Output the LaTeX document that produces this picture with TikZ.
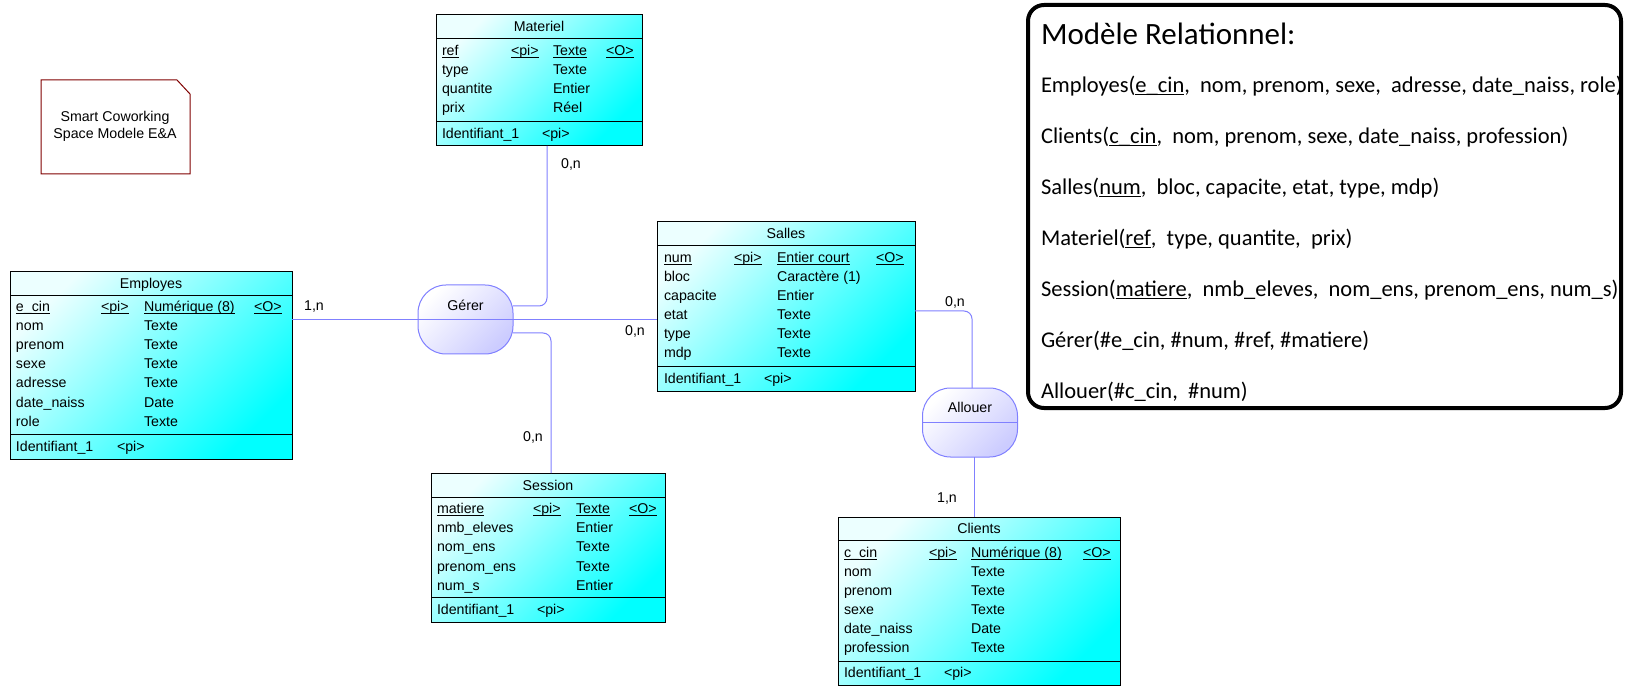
\documentclass[tikz,border=0pt]{standalone}
\usepackage{fontspec}
\setmainfont{Liberation Sans}
\newfontfamily\calib{Carlito}
\usetikzlibrary{calc}
\definecolor{conncol}{RGB}{128,128,255}
\definecolor{cyanlight}{RGB}{236,255,255}
\definecolor{cyanfull}{RGB}{0,255,255}
\definecolor{relfill}{RGB}{204,204,255}
\definecolor{notered}{RGB}{128,0,0}
\newcommand\ul[1]{\setbox0\hbox{#1}\rlap{\rule[-2.4pt]{\wd0}{0.9pt}}\box0}
\newcommand\ulb[1]{\setbox0\hbox{#1}\rlap{\rule[-3.2pt]{\wd0}{1.2pt}}\box0}
\tikzset{
  entity/.style={draw=black, line width=1pt, top color=cyanlight, bottom color=cyanfull, shading angle=45, inner sep=0pt, outer sep=0pt},
  rel/.style={draw=conncol, line width=1pt, rounded corners=28pt, top color=white, bottom color=relfill, shading angle=45, minimum width=95pt, minimum height=69pt, inner sep=0pt, outer sep=0pt},
  conn/.style={draw=conncol, line width=1pt},
  sepline/.style={draw=black, line width=1pt},
  txt/.style={inner sep=0pt, outer sep=0pt, font=\fontsize{14.2}{16}\selectfont, anchor=base west, yshift=-5pt},
  ttl/.style={txt, anchor=base},
  card/.style={txt, anchor=base},
  reltxt/.style={inner sep=0pt, outer sep=0pt, font=\calib\fontsize{22.5}{26}\selectfont, anchor=base west, yshift=-7.2pt},
  reltitle/.style={inner sep=0pt, outer sep=0pt, font=\calib\fontsize{31}{36}\selectfont, anchor=base west, yshift=-10pt},
}
\begin{document}
\begin{tikzpicture}[x=1pt,y=-1pt]
\useasboundingbox (0,0) rectangle (1627,692);
\fill[white] (0,0) rectangle (1627,692);

% ---------- note ----------
\draw[notered, line width=1pt] (41,80) -- (177,80) -- (190,94) -- (190,174) -- (41,174) -- cycle;
\node[inner sep=0pt, align=center, font=\fontsize{14.2}{17}\selectfont] (note) at (115,126) {Smart Coworking\\Space Modele E\&A};

% ---------- Materiel ----------
\node[entity, minimum width=206pt, minimum height=131pt] (mat) at (539,80.5) {};
\draw[sepline] (mat.west |- 0,39) -- (mat.east |- 0,39);
\draw[sepline] (mat.west |- 0,122) -- (mat.east |- 0,122);
\node[ttl] (mat-t) at (539,27) {Materiel};
\node[txt] (mat-a1) at (442,51) {\ul{ref}};
\node[txt] (mat-p1) at (511,51) {\ul{<pi>}};
\node[txt] (mat-d1) at (553,51) {\ul{Texte}};
\node[txt] (mat-o1) at (606,51) {\ul{<O>}};
\node[txt] (mat-a2) at (442,70) {type};
\node[txt] (mat-d2) at (553,70) {Texte};
\node[txt] (mat-a3) at (442,89) {quantite};
\node[txt] (mat-d3) at (553,89) {Entier};
\node[txt] (mat-a4) at (442,108) {prix};
\node[txt] (mat-d4) at (553,108) {Réel};
\node[txt] (mat-i) at (442,134) {Identifiant\_1};
\node[txt] (mat-ip) at (542,134) {<pi>};

% ---------- Employes ----------
\node[entity, minimum width=282pt, minimum height=187pt] (emp) at (151,365.5) {};
\draw[sepline] (emp.west |- 0,296) -- (emp.east |- 0,296);
\draw[sepline] (emp.west |- 0,434) -- (emp.east |- 0,434);
\node[ttl] (emp-t) at (151,284) {Employes};
\node[txt] (emp-a1) at (16,307) {\ul{e\_cin}};
\node[txt] (emp-p1) at (101,307) {\ul{<pi>}};
\node[txt] (emp-d1) at (144,307) {\ul{Numérique (8)}};
\node[txt] (emp-o1) at (254,307) {\ul{<O>}};
\node[txt] (emp-a2) at (16,326) {nom};
\node[txt] (emp-d2) at (144,326) {Texte};
\node[txt] (emp-a3) at (16,345) {prenom};
\node[txt] (emp-d3) at (144,345) {Texte};
\node[txt] (emp-a4) at (16,364) {sexe};
\node[txt] (emp-d4) at (144,364) {Texte};
\node[txt] (emp-a5) at (16,383) {adresse};
\node[txt] (emp-d5) at (144,383) {Texte};
\node[txt] (emp-a6) at (16,402) {date\_naiss};
\node[txt] (emp-d6) at (144,402) {Date};
\node[txt] (emp-a7) at (16,421) {role};
\node[txt] (emp-d7) at (144,421) {Texte};
\node[txt] (emp-i) at (16,446) {Identifiant\_1};
\node[txt] (emp-ip) at (117,446) {<pi>};

% ---------- Salles ----------
\node[entity, minimum width=258pt, minimum height=169pt] (sal) at (786,306.5) {};
\draw[sepline] (sal.west |- 0,246) -- (sal.east |- 0,246);
\draw[sepline] (sal.west |- 0,366) -- (sal.east |- 0,366);
\node[ttl] (sal-t) at (786,234) {Salles};
\node[txt] (sal-a1) at (664,258) {\ul{num}};
\node[txt] (sal-p1) at (734,258) {\ul{<pi>}};
\node[txt] (sal-d1) at (777,258) {\ul{Entier court}};
\node[txt] (sal-o1) at (876,258) {\ul{<O>}};
\node[txt] (sal-a2) at (664,277) {bloc};
\node[txt] (sal-d2) at (777,277) {Caractère (1)};
\node[txt] (sal-a3) at (664,296) {capacite};
\node[txt] (sal-d3) at (777,296) {Entier};
\node[txt] (sal-a4) at (664,315) {etat};
\node[txt] (sal-d4) at (777,315) {Texte};
\node[txt] (sal-a5) at (664,334) {type};
\node[txt] (sal-d5) at (777,334) {Texte};
\node[txt] (sal-a6) at (664,353) {mdp};
\node[txt] (sal-d6) at (777,353) {Texte};
\node[txt] (sal-i) at (664,378) {Identifiant\_1};
\node[txt] (sal-ip) at (764,378) {<pi>};

% ---------- Session ----------
\node[entity, minimum width=234pt, minimum height=149pt] (ses) at (548,547.5) {};
\draw[sepline] (ses.west |- 0,497) -- (ses.east |- 0,497);
\draw[sepline] (ses.west |- 0,597) -- (ses.east |- 0,597);
\node[ttl] (ses-t) at (548,485) {Session};
\node[txt] (ses-a1) at (437,508) {\ul{matiere}};
\node[txt] (ses-p1) at (533,508) {\ul{<pi>}};
\node[txt] (ses-d1) at (576,508) {\ul{Texte}};
\node[txt] (ses-o1) at (629,508) {\ul{<O>}};
\node[txt] (ses-a2) at (437,527) {nmb\_eleves};
\node[txt] (ses-d2) at (576,527) {Entier};
\node[txt] (ses-a3) at (437,546) {nom\_ens};
\node[txt] (ses-d3) at (576,546) {Texte};
\node[txt] (ses-a4) at (437,566) {prenom\_ens};
\node[txt] (ses-d4) at (576,566) {Texte};
\node[txt] (ses-a5) at (437,585) {num\_s};
\node[txt] (ses-d5) at (576,585) {Entier};
\node[txt] (ses-i) at (437,609) {Identifiant\_1};
\node[txt] (ses-ip) at (537,609) {<pi>};

% ---------- Clients ----------
\node[entity, minimum width=282pt, minimum height=168pt] (cli) at (979,601) {};
\draw[sepline] (cli.west |- 0,540) -- (cli.east |- 0,540);
\draw[sepline] (cli.west |- 0,661) -- (cli.east |- 0,661);
\node[ttl] (cli-t) at (979,528.5) {Clients};
\node[txt] (cli-a1) at (844,552) {\ul{c\_cin}};
\node[txt] (cli-p1) at (929,552) {\ul{<pi>}};
\node[txt] (cli-d1) at (971,552) {\ul{Numérique (8)}};
\node[txt] (cli-o1) at (1083,552) {\ul{<O>}};
\node[txt] (cli-a2) at (844,571) {nom};
\node[txt] (cli-d2) at (971,571) {Texte};
\node[txt] (cli-a3) at (844,590) {prenom};
\node[txt] (cli-d3) at (971,590) {Texte};
\node[txt] (cli-a4) at (844,609) {sexe};
\node[txt] (cli-d4) at (971,609) {Texte};
\node[txt] (cli-a5) at (844,628) {date\_naiss};
\node[txt] (cli-d5) at (971,628) {Date};
\node[txt] (cli-a6) at (844,647) {profession};
\node[txt] (cli-d6) at (971,647) {Texte};
\node[txt] (cli-i) at (844,672) {Identifiant\_1};
\node[txt] (cli-ip) at (944,672) {<pi>};

% ---------- relationships ----------
\node[rel] (ger) at (465.5,319.5) {};
\node[rel] (all) at (970,422.5) {};
\draw[conn] (ger.west) -- (ger.east);
\draw[conn] (all.west) -- (all.east);
\node[ttl] (ger-t) at (465.5,306) {Gérer};
\node[ttl] (all-t) at (970,407) {Allouer};

% ---------- connectors ----------
\draw[conn] (emp.east |- ger.west) -- (ger.west);
\draw[conn] (ger.east) -- (ger.east -| sal.west);
\draw[conn, rounded corners=8pt] ([yshift=13.5pt]ger.east) -| ([xshift=8pt]mat.south);
\draw[conn, rounded corners=8pt] ([yshift=-13.5pt]ger.east) -| ([xshift=3pt]ses.north);
\draw[conn, rounded corners=8pt] ([yshift=-4.5pt]sal.east) -| ([xshift=2pt]all.north);
\draw[conn] ([xshift=4pt]all.south) -- ([xshift=4pt]all.south |- cli.north);

% ---------- cardinalities ----------
\node[card] (c1) at (314,306) {1,n};
\node[card] (c2) at (571,164) {0,n};
\node[card] (c3) at (635,331) {0,n};
\node[card] (c4) at (533,436) {0,n};
\node[card] (c5) at (955,302) {0,n};
\node[card] (c6) at (947,497) {1,n};

% ---------- relational model ----------
\node[draw=black, line width=4pt, rounded corners=16pt, minimum width=593pt, minimum height=403pt, inner sep=0pt] (rm) at (1324.5,206.5) {};
\node[reltitle] (rm-t) at (1041,35) {Modèle Relationnel:};
\node[reltxt] (rm-1) at (1041,85) {Employes(\ulb{e\_cin}, \ nom, prenom, sexe, \ adresse, date\_naiss, role)};
\node[reltxt] (rm-2) at (1041,136) {Clients(\ulb{c\_cin}, \ nom, prenom, sexe, date\_naiss, profession)};
\node[reltxt] (rm-3) at (1041,187) {Salles(\ulb{num}, \ bloc, capacite, etat, type, mdp)};
\node[reltxt] (rm-4) at (1041,238) {Materiel(\ulb{ref}, \ type, quantite, \ prix)};
\node[reltxt] (rm-5) at (1041,289) {Session(\ulb{matiere}, \ nmb\_eleves, \ nom\_ens, prenom\_ens, num\_s)};
\node[reltxt] (rm-6) at (1041,340) {Gérer(\#e\_cin, \#num, \#ref, \#matiere)};
\node[reltxt] (rm-7) at (1041,391) {Allouer(\#c\_cin, \ \#num)};
\end{tikzpicture}
\end{document}
